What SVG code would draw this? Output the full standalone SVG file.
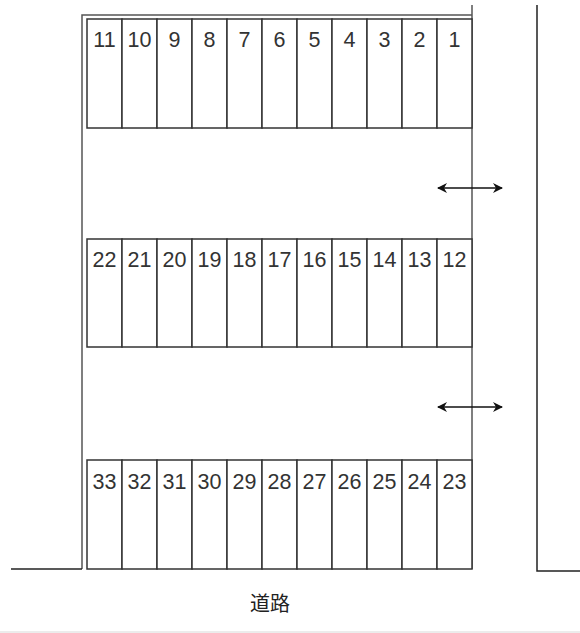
<svg xmlns="http://www.w3.org/2000/svg" width="580" height="633" viewBox="0 0 580 633">
<style>
.st{fill:#fff;stroke:#333;stroke-width:1.5}
.num{font-family:"Liberation Sans","Noto Sans",sans-serif;font-size:21.5px;fill:#333;text-anchor:middle}
.ln{fill:none;stroke:#555;stroke-width:1.5}
.dk{fill:none;stroke:#222;stroke-width:1.5}
.ar{stroke:#111;stroke-width:1.5;marker-start:url(#ah);marker-end:url(#ah)}
.road{font-family:"Noto Sans CJK JP","Noto Sans CJK SC",sans-serif;font-size:20px;fill:#222;text-anchor:middle}
</style>
<defs>
<marker id="ah" viewBox="0 0 10 10" refX="9" refY="5" markerWidth="11" markerHeight="10" markerUnits="userSpaceOnUse" orient="auto-start-reverse">
<path d="M0,0 L10,5 L0,10 L3,5 Z" fill="#111"/>
</marker>
</defs>
<rect width="580" height="633" fill="#fff"/>
<g id="boundaries">
<path class="ln" d="M82,569 V15 H472"/>
<path class="ln" d="M472,5 V569"/>
<path class="dk" d="M11,569 H82"/>
<path class="dk" d="M537,5 V571 H580"/>
<line x1="0" y1="632" x2="580" y2="632" stroke="#e6e6e6" stroke-width="1.5"/>
</g>
<g id="row1">
<g id="s11"><rect class="st" x="87" y="19" width="35" height="109"/><text class="num" x="104.5" y="47">11</text></g>
<g id="s10"><rect class="st" x="122" y="19" width="35" height="109"/><text class="num" x="139.5" y="47">10</text></g>
<g id="s9"><rect class="st" x="157" y="19" width="35" height="109"/><text class="num" x="174.5" y="47">9</text></g>
<g id="s8"><rect class="st" x="192" y="19" width="35" height="109"/><text class="num" x="209.5" y="47">8</text></g>
<g id="s7"><rect class="st" x="227" y="19" width="35" height="109"/><text class="num" x="244.5" y="47">7</text></g>
<g id="s6"><rect class="st" x="262" y="19" width="35" height="109"/><text class="num" x="279.5" y="47">6</text></g>
<g id="s5"><rect class="st" x="297" y="19" width="35" height="109"/><text class="num" x="314.5" y="47">5</text></g>
<g id="s4"><rect class="st" x="332" y="19" width="35" height="109"/><text class="num" x="349.5" y="47">4</text></g>
<g id="s3"><rect class="st" x="367" y="19" width="35" height="109"/><text class="num" x="384.5" y="47">3</text></g>
<g id="s2"><rect class="st" x="402" y="19" width="35" height="109"/><text class="num" x="419.5" y="47">2</text></g>
<g id="s1"><rect class="st" x="437" y="19" width="35" height="109"/><text class="num" x="454.5" y="47">1</text></g>
</g>
<g id="row2">
<g id="s22"><rect class="st" x="87" y="239" width="35" height="108"/><text class="num" x="104.5" y="267">22</text></g>
<g id="s21"><rect class="st" x="122" y="239" width="35" height="108"/><text class="num" x="139.5" y="267">21</text></g>
<g id="s20"><rect class="st" x="157" y="239" width="35" height="108"/><text class="num" x="174.5" y="267">20</text></g>
<g id="s19"><rect class="st" x="192" y="239" width="35" height="108"/><text class="num" x="209.5" y="267">19</text></g>
<g id="s18"><rect class="st" x="227" y="239" width="35" height="108"/><text class="num" x="244.5" y="267">18</text></g>
<g id="s17"><rect class="st" x="262" y="239" width="35" height="108"/><text class="num" x="279.5" y="267">17</text></g>
<g id="s16"><rect class="st" x="297" y="239" width="35" height="108"/><text class="num" x="314.5" y="267">16</text></g>
<g id="s15"><rect class="st" x="332" y="239" width="35" height="108"/><text class="num" x="349.5" y="267">15</text></g>
<g id="s14"><rect class="st" x="367" y="239" width="35" height="108"/><text class="num" x="384.5" y="267">14</text></g>
<g id="s13"><rect class="st" x="402" y="239" width="35" height="108"/><text class="num" x="419.5" y="267">13</text></g>
<g id="s12"><rect class="st" x="437" y="239" width="35" height="108"/><text class="num" x="454.5" y="267">12</text></g>
</g>
<g id="row3">
<g id="s33"><rect class="st" x="87" y="460" width="35" height="109"/><text class="num" x="104.5" y="489">33</text></g>
<g id="s32"><rect class="st" x="122" y="460" width="35" height="109"/><text class="num" x="139.5" y="489">32</text></g>
<g id="s31"><rect class="st" x="157" y="460" width="35" height="109"/><text class="num" x="174.5" y="489">31</text></g>
<g id="s30"><rect class="st" x="192" y="460" width="35" height="109"/><text class="num" x="209.5" y="489">30</text></g>
<g id="s29"><rect class="st" x="227" y="460" width="35" height="109"/><text class="num" x="244.5" y="489">29</text></g>
<g id="s28"><rect class="st" x="262" y="460" width="35" height="109"/><text class="num" x="279.5" y="489">28</text></g>
<g id="s27"><rect class="st" x="297" y="460" width="35" height="109"/><text class="num" x="314.5" y="489">27</text></g>
<g id="s26"><rect class="st" x="332" y="460" width="35" height="109"/><text class="num" x="349.5" y="489">26</text></g>
<g id="s25"><rect class="st" x="367" y="460" width="35" height="109"/><text class="num" x="384.5" y="489">25</text></g>
<g id="s24"><rect class="st" x="402" y="460" width="35" height="109"/><text class="num" x="419.5" y="489">24</text></g>
<g id="s23"><rect class="st" x="437" y="460" width="35" height="109"/><text class="num" x="454.5" y="489">23</text></g>
</g>
<g id="connectors">
<line class="ar" x1="438" y1="188" x2="502" y2="188"/>
<line class="ar" x1="438" y1="407" x2="502" y2="407"/>
</g>
<g id="road"><text class="road" x="270" y="611">道路</text></g>
</svg>
